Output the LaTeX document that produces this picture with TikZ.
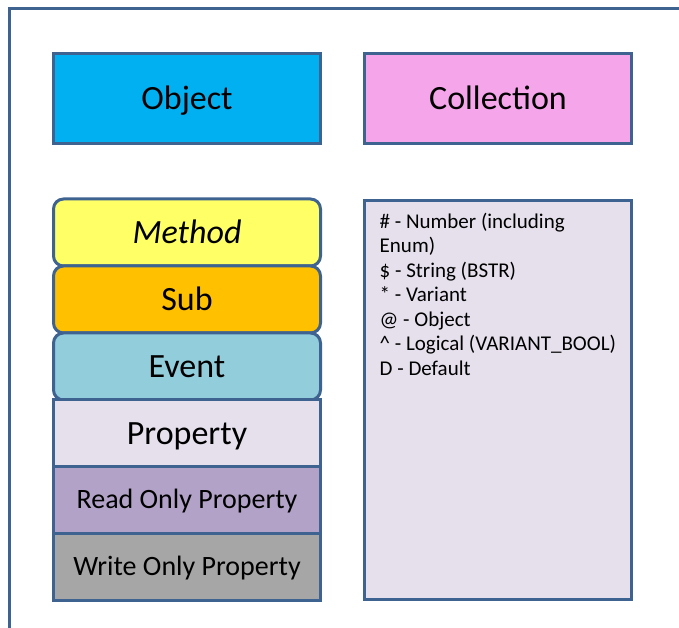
\documentclass[tikz,border=0pt]{standalone}
\usepackage{fontspec}
\setmainfont{Carlito}
\usetikzlibrary{positioning}
\definecolor{edgeblue}{HTML}{3F6390}
\definecolor{objblue}{HTML}{00B0F0}
\definecolor{collpink}{HTML}{F5A6EB}
\definecolor{methyellow}{HTML}{FFFF66}
\definecolor{suborange}{HTML}{FFC000}
\definecolor{eventblue}{HTML}{92CDDC}
\definecolor{proplilac}{HTML}{E6E0EC}
\definecolor{readpurple}{HTML}{B2A2C7}
\definecolor{writegray}{HTML}{A6A6A6}
\tikzstyle{box}=[draw=edgeblue,line width=3pt,outer sep=0pt,inner sep=0pt,minimum width=267pt,minimum height=67pt,text height=22pt,text depth=0pt,font=\fontsize{34}{40}\selectfont]
\tikzstyle{roundbox}=[box,rounded corners=10pt]
\tikzstyle{smallbox}=[box,text height=17pt,font=\fontsize{28}{34}\selectfont]

\begin{document}
\begin{tikzpicture}[x=1pt,y=1pt,node distance=0pt]
    \useasboundingbox (0,0) rectangle (679,628);
    % frame
    \draw[edgeblue,line width=3pt] (9,0) -- (9,619) -- (679,619);

    \node (object) [box, fill=objblue, minimum height=90pt] at (187,529) {Object};
    \node (collection) [box, fill=collpink, minimum height=90pt] at (498,529) {Collection};

    \node (method) [roundbox, fill=methyellow, font=\fontsize{34}{40}\selectfont\itshape] at (187,395.5) {Method};
    \node (sub) [roundbox, fill=suborange] [below=of method] {Sub};
    \node (event) [roundbox, fill=eventblue] [below=of sub] {Event};
    \node (property) [box, fill=proplilac] [below=of event] {Property};
    \node (readonly) [smallbox, fill=readpurple] [below=of property] {Read Only Property};
    \node (writeonly) [smallbox, fill=writegray] [below=of readonly] {Write Only Property};

    \node (legend) [box, fill=proplilac, minimum height=399pt] at (498,228) {};
    \node (legendtext) [anchor=north west, align=left, inner sep=0pt, font=\fontsize{21}{24.5}\selectfont]
        at ([xshift=15pt,yshift=-12pt]legend.north west)
        {\# - Number (including\\Enum)\\\$ - String (BSTR)\\* - Variant\\@ - Object\\\textasciicircum{} - Logical (VARIANT\_BOOL)\\D - Default};
\end{tikzpicture}
\end{document}
